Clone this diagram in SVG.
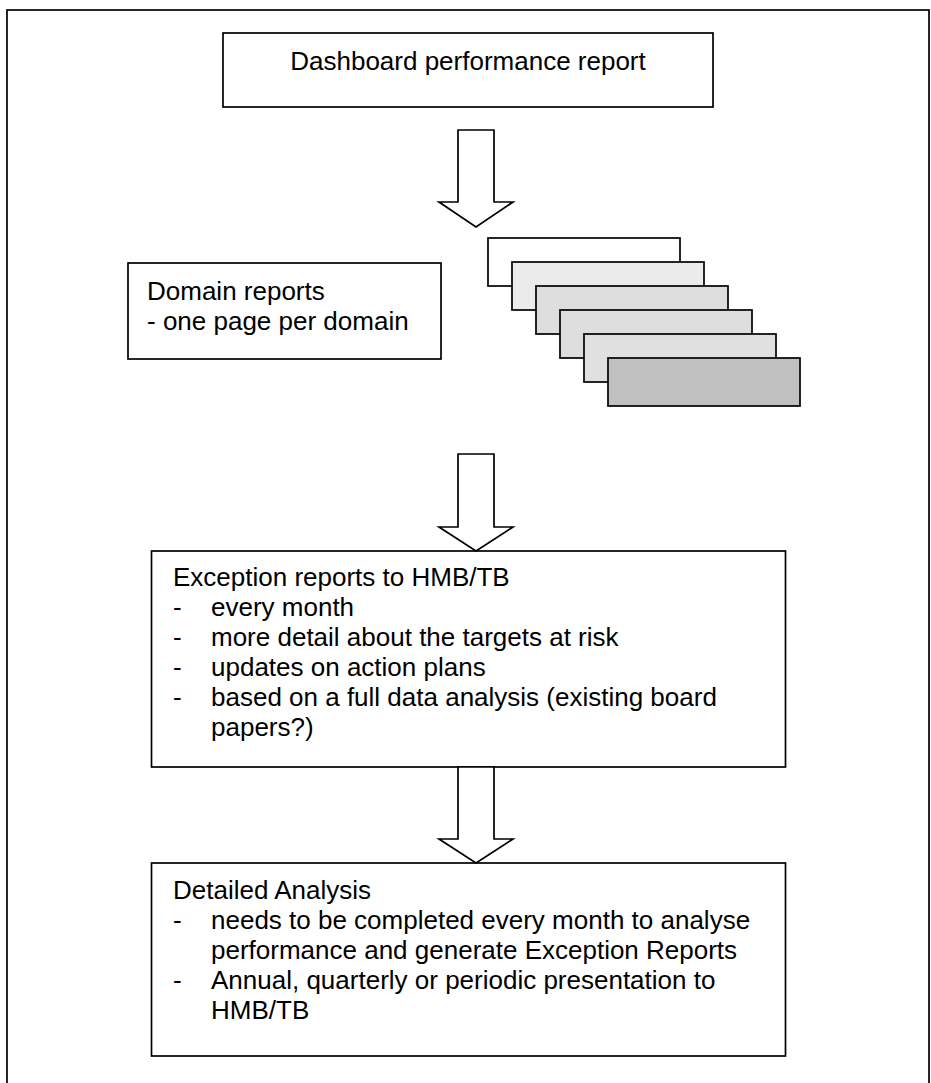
<svg xmlns="http://www.w3.org/2000/svg" width="931" height="1083" viewBox="0 0 931 1083">
<style>
.box{fill:#ffffff;stroke:#000000;stroke-width:1.7}
.arrow{fill:#ffffff;stroke:#000000;stroke-width:1.7;stroke-linejoin:miter}
.page{stroke:#000000;stroke-width:1.7}
text{font-family:"Liberation Sans",Arial,sans-serif;font-size:26px;fill:#000000}
</style>
<rect x="0" y="0" width="931" height="1083" fill="#ffffff"/>
<rect x="7" y="10" width="922" height="1095" fill="none" stroke="#000000" stroke-width="1.7"/>

<g id="dashboard">
<rect class="box" x="223" y="33" width="490" height="74"/>
<text x="468" y="70" text-anchor="middle">Dashboard performance report</text>
</g>

<g id="domain-reports">
<rect class="box" x="128" y="263" width="313" height="96"/>
<text x="147" y="300">Domain reports</text>
<text x="147" y="330">- one page per domain</text>
</g>

<g id="page-stack">
<rect class="page" x="488" y="238" width="192" height="48" fill="#ffffff"/>
<rect class="page" x="512" y="262" width="192" height="48" fill="#ebebeb"/>
<rect class="page" x="536" y="286" width="192" height="48" fill="#dedede"/>
<rect class="page" x="560" y="310" width="192" height="48" fill="#dedede"/>
<rect class="page" x="584" y="334" width="192" height="48" fill="#e0e0e0"/>
<rect class="page" x="608" y="358" width="192" height="48" fill="#c0c0c0"/>
</g>

<g id="exception-reports">
<rect class="box" x="151.5" y="551" width="634" height="216"/>
<text x="173" y="586">Exception reports to HMB/TB</text>
<text x="173" y="616">-</text><text x="211" y="616">every month</text>
<text x="173" y="646">-</text><text x="211" y="646">more detail about the targets at risk</text>
<text x="173" y="676">-</text><text x="211" y="676">updates on action plans</text>
<text x="173" y="706">-</text><text x="211" y="706">based on a full data analysis (existing board</text>
<text x="211" y="736">papers?)</text>
</g>

<g id="detailed-analysis">
<rect class="box" x="151.5" y="863" width="634" height="193"/>
<text x="173" y="899">Detailed Analysis</text>
<text x="173" y="929">-</text><text x="211" y="929">needs to be completed every month to analyse</text>
<text x="211" y="959">performance and generate Exception Reports</text>
<text x="173" y="989">-</text><text x="211" y="989">Annual, quarterly or periodic presentation to</text>
<text x="211" y="1019">HMB/TB</text>
</g>

<g id="connectors">
<polygon class="arrow" points="458,130 494,130 494,202 513,202 476,227 439,202 458,202"/>
<polygon class="arrow" points="458,454 494,454 494,527 513,527 476,551 439,527 458,527"/>
<polygon class="arrow" points="458,767 494,767 494,839 513,839 476,863 439,839 458,839"/>
</g>
</svg>
